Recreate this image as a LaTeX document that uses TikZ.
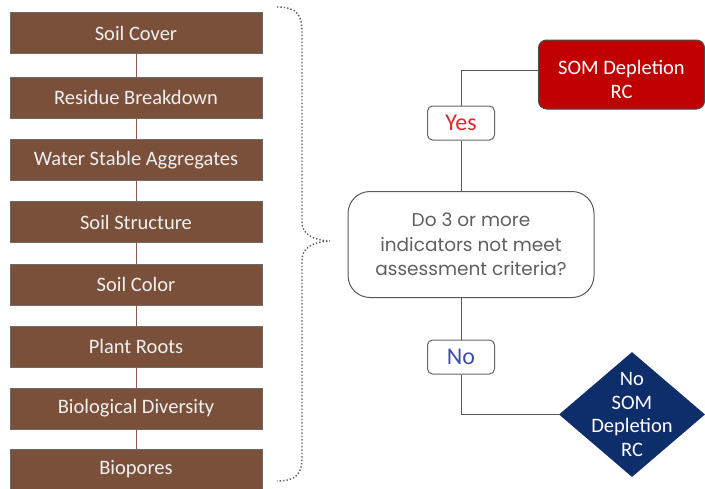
\documentclass[tikz,border=0pt]{standalone}
\usepackage{fontspec}
\setmainfont{Carlito}
\newfontfamily\decfont{Poppins}
\usetikzlibrary{shapes.geometric}
\definecolor{soilbrown}{HTML}{7B503B}
\definecolor{linkbrown}{HTML}{8A5A40}
\definecolor{boxedge}{HTML}{6A6A6A}
\definecolor{somred}{HTML}{C00000}
\definecolor{yesred}{HTML}{E0282A}
\definecolor{noblue}{HTML}{3F4FA8}
\definecolor{navy}{HTML}{0E2D6B}
\definecolor{dectext}{HTML}{606060}
\definecolor{bracegray}{HTML}{5F5F5F}
\tikzset{
  indbox/.style={draw=boxedge, line width=0.6pt, fill=soilbrown, text=white!94!black,
    minimum width=252pt, minimum height=41pt, inner sep=0pt,
    font=\fontsize{20.5}{24}\selectfont},
  link/.style={draw=linkbrown, line width=1pt},
  flow/.style={draw=black!65, line width=1pt},
  answer/.style={draw=black!60, line width=1pt, rounded corners=5pt, fill=white,
    minimum width=67pt, minimum height=34pt, inner sep=0pt,
    font=\fontsize{24}{28}\selectfont},
}
\begin{document}
\begin{tikzpicture}[x=1pt,y=-1pt]
\clip (0,0) rectangle (705,488);
\fill[white] (0,0) rectangle (705,488);

% indicator boxes
\node[indbox] (b1) at (136,33.0) {Soil Cover};
\node[indbox] (b2) at (136,97.5) {Residue Breakdown};
\node[indbox] (b3) at (136,160.0) {Water Stable Aggregates};
\node[indbox] (b4) at (136,222.0) {Soil Structure};
\node[indbox] (b5) at (136,284.5) {Soil Color};
\node[indbox] (b6) at (136,346.5) {Plant Roots};
\node[indbox] (b7) at (136,408.5) {Biological Diversity};
\node[indbox] (b8) at (136,469.5) {Biopores};
\foreach \a/\b in {b1/b2,b2/b3,b3/b4,b4/b5,b5/b6,b6/b7,b7/b8}
  \draw[link] (\a.south) -- (\b.north);

% brace
\coordinate (bt) at (277,7);
\coordinate (btip) at (330,241);
\coordinate (bb) at (277,481);
\draw[bracegray, line width=1.4pt, dotted]
  (bt) .. controls (298,7) and (302,16) .. (302,32)
  -- (302,222) .. controls (302,234) and (312,240) .. (btip)
  .. controls (312,242) and (302,248) .. (302,260)
  -- (302,458) .. controls (302,474) and (296,481) .. (bb);

% decision
\node[draw=black!65, line width=1pt, rounded corners=22pt, fill=white,
  minimum width=246pt, minimum height=106pt, inner sep=0pt, align=center,
  text=dectext, font=\decfont\fontsize{18.5}{24.5}\selectfont]
  (dec) at (471,244.5) {Do 3 or more\\indicators not meet\\assessment criteria?};

% outcomes
\node[draw=black!70, line width=1pt, rounded corners=8pt, fill=somred,
  minimum width=166pt, minimum height=69pt, inner sep=0pt]
  (som) at (621.5,74.5) {};
\node[align=center, text=white, inner sep=0pt, font=\fontsize{20.5}{24}\selectfont]
  (somlabel) at ([yshift=-5pt]som.center) {SOM Depletion\\RC};
\node[diamond, fill=navy, minimum width=146pt, minimum height=125pt, inner sep=0pt]
  (dia) at (632,414.5) {};
\node[align=center, text=white, inner sep=0pt, font=\fontsize{20.5}{23.5}\selectfont]
  (dialabel) at (dia.center) {No\\SOM\\Depletion\\RC};

% answers
\node[answer, text=yesred] (yes) at (461,123) {Yes};
\node[answer, text=noblue] (no) at (461,357) {No};

% connectors
\draw[flow] (yes.north) |- ([yshift=4.5pt]som.west);
\draw[flow] (yes.south) -- (yes.south |- dec.north);
\draw[flow] (no.north |- dec.south) -- (no.north);
\draw[flow] (no.south) |- (dia.west);
\end{tikzpicture}
\end{document}
